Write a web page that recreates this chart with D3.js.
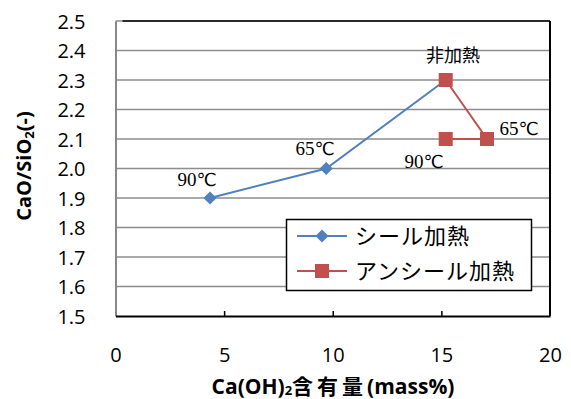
<!DOCTYPE html>
<html>
<head>
<meta charset="utf-8">
<script src="https://cdn.jsdelivr.net/npm/d3@7"></script>
<style>
  html, body { margin: 0; padding: 0; background: #fff; }
  svg { display: block; }
</style>
</head>
<body>
<svg id="chart" width="571" height="399"></svg>
<script>
// Ca(OH)2 content vs CaO/SiO2 ratio
const sealX = [4.35, 9.7, 15.2];
const sealY = [1.9, 2.0, 2.3];
const sealLabels = ["90", "65", ""];

const unsealX = [15.2, 17.1, 15.2];
const unsealY = [2.3, 2.1, 2.1];
const unsealLabels = ["非加熱", "65", "90"];

const seriesNames = ["シール加熱", "アンシール加熱"];
const xTicks = [0, 5, 10, 15, 20];
const yTicks = [1.5, 1.6, 1.7, 1.8, 1.9, 2.0, 2.1, 2.2, 2.3, 2.4, 2.5];

const blue = "#4F81BD", red = "#C0504D";
const sans = "'Open Sans', 'Noto Sans CJK JP', sans-serif";
const serif = "'Liberation Serif', serif";
const jp = "'Noto Sans CJK JP', sans-serif";

const svg = d3.select("#chart");
const L = 115.5, R = 550, T = 21, B = 316;

const x = d3.scaleLinear().domain([0, 20]).range([L, R]);
const y = d3.scaleLinear().domain([1.5, 2.5]).range([B, T]);

// horizontal gridlines
svg.append("g").selectAll("line").data(yTicks.slice(1)).join("line")
  .attr("x1", L).attr("x2", R)
  .attr("y1", d => y(d)).attr("y2", d => y(d))
  .attr("stroke", "#8c8c8c").attr("stroke-width", 1.5);

// plot border (top and right)
svg.append("line").attr("x1", L + 7).attr("x2", R).attr("y1", T).attr("y2", T)
  .attr("stroke", "#000").attr("stroke-width", 1.5);
svg.append("line").attr("x1", R).attr("x2", R).attr("y1", T).attr("y2", B)
  .attr("stroke", "#000").attr("stroke-width", 2);

// y axis
const yAxis = d3.axisLeft(y).tickValues(yTicks).tickFormat(d3.format(".1f")).tickSize(0).tickPadding(30);
const gy = svg.append("g").attr("transform", `translate(${L},0)`).call(yAxis);
gy.select(".domain").attr("stroke", "#888").attr("stroke-width", 2);
gy.selectAll("text").attr("font-family", sans).attr("font-size", 20).attr("fill", "#000")
  .attr("dy", "0.36em");

// x axis with inward ticks
const xAxis = d3.axisBottom(x).tickValues(xTicks).tickSize(-5).tickSizeOuter(0).tickPadding(32);
const gx = svg.append("g").attr("transform", `translate(0,${B})`).call(xAxis);
gx.select(".domain").attr("stroke", "#000").attr("stroke-width", 2);
gx.selectAll(".tick line").attr("stroke", "#000").attr("stroke-width", 1.5);
gx.selectAll(".tick").filter(d => d === 0 || d === 20).select("line").remove();
gx.selectAll("text").attr("font-family", sans).attr("font-size", 20).attr("fill", "#000");

// axis titles
svg.append("text")
  .attr("transform", `translate(31,166) rotate(-90)`)
  .attr("text-anchor", "middle")
  .attr("font-family", sans).attr("font-size", 20).attr("font-weight", "bold")
  .html('CaO/SiO<tspan font-size="13" dy="3">2</tspan><tspan dy="-3">(-)</tspan>');

svg.append("text")
  .attr("x", 333).attr("y", 394)
  .attr("text-anchor", "middle")
  .attr("font-family", sans).attr("font-size", 21).attr("font-weight", "bold")
  .html('Ca(OH)<tspan font-size="13" dy="1">2</tspan><tspan dy="-1" font-family="Noto Sans CJK JP" letter-spacing="4">含有量</tspan>(mass%)');

const line = d3.line().x(d => x(d[0])).y(d => y(d[1]));
const sealPts = sealX.map((v, i) => [v, sealY[i]]);
const unsealPts = unsealX.map((v, i) => [v, unsealY[i]]);

// series lines
svg.append("path").datum(sealPts).attr("d", line)
  .attr("fill", "none").attr("stroke", blue).attr("stroke-width", 2);
svg.append("path").datum(unsealPts).attr("d", line)
  .attr("fill", "none").attr("stroke", red).attr("stroke-width", 2);

// markers
const diamond = d3.symbol().type(d3.symbolDiamond2).size(110);
svg.append("g").selectAll("path").data(sealPts).join("path")
  .attr("d", diamond)
  .attr("transform", d => `translate(${x(d[0])},${y(d[1])})`)
  .attr("fill", blue);
svg.append("g").selectAll("rect").data(unsealPts).join("rect")
  .attr("x", d => x(d[0]) - 7).attr("y", d => y(d[1]) - 7)
  .attr("width", 14).attr("height", 14)
  .attr("fill", red);

// temperature label: serif digits followed by a ℃ sign
function tempLabel(g, txt, px, py) {
  const t = g.append("text").attr("x", px).attr("y", py)
    .attr("text-anchor", "middle")
    .attr("font-family", serif).attr("font-size", 19);
  t.append("tspan").text(txt);
  t.append("tspan").attr("font-family", "'DejaVu Sans', sans-serif").attr("font-size", 18).text("℃");
}

// point labels
const lbl = svg.append("g");
const sealLabelPos = [[197, 186], [315, 155]];
sealLabels.slice(0, 2).forEach((d, i) => tempLabel(lbl, d, sealLabelPos[i][0], sealLabelPos[i][1]));

const unsealLabelPos = [[453, 62], [519, 135], [424, 168]];
unsealLabels.forEach((d, i) => {
  if (i === 0) {
    lbl.append("text").attr("x", unsealLabelPos[i][0]).attr("y", unsealLabelPos[i][1])
      .attr("text-anchor", "middle").attr("font-family", jp).attr("font-size", 18).text(d);
  } else {
    tempLabel(lbl, d, unsealLabelPos[i][0], unsealLabelPos[i][1]);
  }
});

// legend
const lg = svg.append("g");
lg.append("rect").attr("x", 286.5).attr("y", 219.5).attr("width", 245).attr("height", 71)
  .attr("fill", "#fff").attr("stroke", "#000").attr("stroke-width", 1.5);
const legendRows = [{ name: seriesNames[0], color: blue, yy: 236 }, { name: seriesNames[1], color: red, yy: 271 }];
legendRows.forEach((r, i) => {
  lg.append("line").attr("x1", 297).attr("x2", 347).attr("y1", r.yy).attr("y2", r.yy)
    .attr("stroke", r.color).attr("stroke-width", 2);
  if (i === 0) {
    lg.append("path").attr("d", diamond).attr("transform", `translate(322,${r.yy})`).attr("fill", r.color);
  } else {
    lg.append("rect").attr("x", 315).attr("y", r.yy - 7).attr("width", 14).attr("height", 14).attr("fill", r.color);
  }
  lg.append("text").attr("x", 355).attr("y", r.yy + 8)
    .attr("font-family", jp).attr("font-size", 22).attr("letter-spacing", 1)
    .text(r.name);
});
</script>
</body>
</html>
